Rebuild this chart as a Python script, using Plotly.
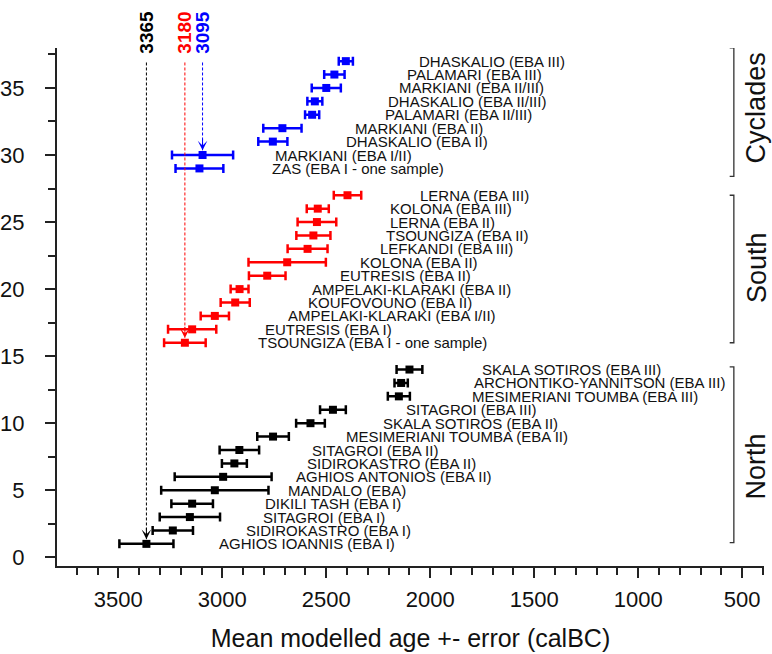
import plotly.graph_objects as go

# ---------------- data ----------------
north_labels = ["AGHIOS IOANNIS (EBA I)", "SIDIROKASTRO (EBA I)", "SITAGROI (EBA I)",
                "DIKILI TASH (EBA I)", "MANDALO (EBA)", "AGHIOS ANTONIOS (EBA II)",
                "SIDIROKASTRO (EBA II)", "SITAGROI (EBA II)", "MESIMERIANI TOUMBA (EBA II)",
                "SKALA SOTIROS (EBA II)", "SITAGROI (EBA III)", "MESIMERIANI TOUMBA (EBA III)",
                "ARCHONTIKO-YANNITSON (EBA III)", "SKALA SOTIROS (EBA III)"]
north_y = [1, 2, 3, 4, 5, 6, 7, 8, 9, 10, 11, 12, 13, 14]
north_mean = [3365, 3238, 3156, 3145, 3036, 2996, 2942, 2918, 2756, 2576, 2468, 2151, 2140, 2100]
north_err = [130, 97, 145, 100, 258, 233, 60, 95, 76, 69, 62, 53, 32, 62]

south_labels = ["TSOUNGIZA (EBA I - one sample)", "EUTRESIS (EBA I)", "AMPELAKI-KLARAKI (EBA I/II)",
                "KOUFOVOUNO (EBA II)", "AMPELAKI-KLARAKI (EBA II)", "EUTRESIS (EBA II)",
                "KOLONA (EBA II)", "LEFKANDI (EBA III)", "TSOUNGIZA (EBA II)", "LERNA (EBA II)",
                "KOLONA (EBA III)", "LERNA (EBA III)"]
south_y = [16, 17, 18, 19, 20, 21, 22, 23, 24, 25, 26, 27]
south_mean = [3180, 3145, 3036, 2938, 2917, 2784, 2688, 2590, 2562, 2545, 2541, 2398]
south_err = [100, 116, 68, 70, 43, 88, 186, 96, 82, 93, 53, 66]

cyc_labels = ["ZAS (EBA I - one sample)", "MARKIANI (EBA I/II)", "DHASKALIO (EBA II)",
              "MARKIANI (EBA II)", "PALAMARI (EBA II/III)", "DHASKALIO (EBA II/III)",
              "MARKIANI (EBA II/III)", "PALAMARI (EBA III)", "DHASKALIO (EBA III)"]
cyc_y = [29, 30, 31, 32, 33, 34, 35, 36, 37]
cyc_mean = [3110, 3095, 2757, 2711, 2568, 2555, 2500, 2461, 2406]
cyc_err = [115, 147, 70, 92, 34, 36, 70, 49, 34]

ref_values = [3365, 3180, 3095]
ref_targets = [1, 16, 30]
ref_colors = ["black", "#FF0000", "#0000FF"]

group_names = ["North", "South", "Cyclades"]
group_span = [(1.1, 14.2), (16.0, 27.0), (28.4, 38.0)]
group_label_y = [6.8, 21.6, 33.5]

x_major = [3500, 3000, 2500, 2000, 1500, 1000, 500]

LABEL_OFFSET = 340  # years between point and start of its label
FONT = "Arial, Liberation Sans, sans-serif"

fig = go.Figure()

groups = [
    (north_labels, north_y, north_mean, north_err, "black"),
    (south_labels, south_y, south_mean, south_err, "#FF0000"),
    (cyc_labels, cyc_y, cyc_mean, cyc_err, "#0000FF"),
]

annotations = []
for labels, ys, means, errs, col in groups:
    fig.add_trace(go.Scatter(
        x=means, y=ys, mode="markers",
        marker=dict(symbol="square", size=8, color=col),
        error_x=dict(type="data", array=errs, color=col, thickness=2.5, width=4.5),
        showlegend=False, hoverinfo="skip"))
    for lab, yv, mv in zip(labels, ys, means):
        annotations.append(dict(x=mv - LABEL_OFFSET, y=yv, xref="x", yref="y", text=lab,
                                showarrow=False, xanchor="left", yanchor="middle",
                                font=dict(family=FONT, size=15, color="#111")))

# reference lines with arrows
LINE_TOP = 36.9
for val, tgt, col in zip(ref_values, ref_targets, ref_colors):
    fig.add_trace(go.Scatter(x=[val, val], y=[LINE_TOP, tgt + 0.35], mode="lines",
                             line=dict(color=col, width=1, dash="3px,2px"),
                             showlegend=False, hoverinfo="skip"))
    annotations.append(dict(x=val, y=tgt + 0.35, xref="x", yref="y",
                            ax=val, ay=tgt + 1.3, axref="x", ayref="y",
                            showarrow=True, arrowhead=3, arrowsize=1.6, arrowwidth=1,
                            arrowcolor=col, text=""))
    annotations.append(dict(x=val, y=37.4, xref="x", yref="y", text="<b>%d</b>" % val,
                            showarrow=False, textangle=-90, xanchor="center", yanchor="bottom",
                            font=dict(family=FONT, size=19, color=col)))

# group brackets
BR_X = 540
BR_TICK = 560
for name, (lo, hi), ly in zip(group_names, group_span, group_label_y):
    fig.add_trace(go.Scatter(x=[BR_TICK, BR_X, BR_X, BR_TICK], y=[hi, hi, lo, lo],
                             mode="lines", line=dict(color="#333", width=1.3),
                             showlegend=False, hoverinfo="skip"))
    annotations.append(dict(x=432, y=ly, xref="x", yref="y", text=name, showarrow=False,
                            textangle=-90, xanchor="center", yanchor="middle",
                            font=dict(family=FONT, size=27, color="#111")))

fig.update_layout(
    width=772, height=654,
    margin=dict(l=57, r=8, t=48, b=88),
    paper_bgcolor="white", plot_bgcolor="white",
    annotations=annotations,
    font=dict(family=FONT, color="#111"),
)

fig.update_xaxes(
    automargin=False,
    range=[3795, 395], showgrid=False, zeroline=False,
    showline=True, linecolor="#222", linewidth=2,
    tickmode="array", tickvals=x_major, ticktext=[str(v) for v in x_major],
    ticks="outside", ticklen=10, tickwidth=1.5, tickcolor="#222",
    tickfont=dict(family=FONT, size=22, color="#111"),
    ticklabelstandoff=3,
    minor=dict(dtick=100, tick0=0, ticks="outside", ticklen=7, tickwidth=1.5, tickcolor="#222", showgrid=False),
    title=dict(text="Mean modelled age +- error (calBC)", font=dict(family=FONT, size=25, color="#111"), standoff=18),
)
fig.update_yaxes(
    automargin=False,
    range=[-0.65, 37.98], showgrid=False, zeroline=False,
    showline=True, linecolor="#222", linewidth=2,
    tick0=0, dtick=5,
    ticks="outside", ticklen=10, tickwidth=1.5, tickcolor="#222",
    tickfont=dict(family=FONT, size=22, color="#111"),
    ticklabelstandoff=16,
    minor=dict(dtick=2.5, tick0=0, ticks="outside", ticklen=7, tickwidth=1.5, tickcolor="#222", showgrid=False),
)

fig.write_html("out.html", config={"displayModeBar": False},
               post_script="document.documentElement.style.margin='0';document.body.style.margin='0';document.body.style.overflow='hidden';")
